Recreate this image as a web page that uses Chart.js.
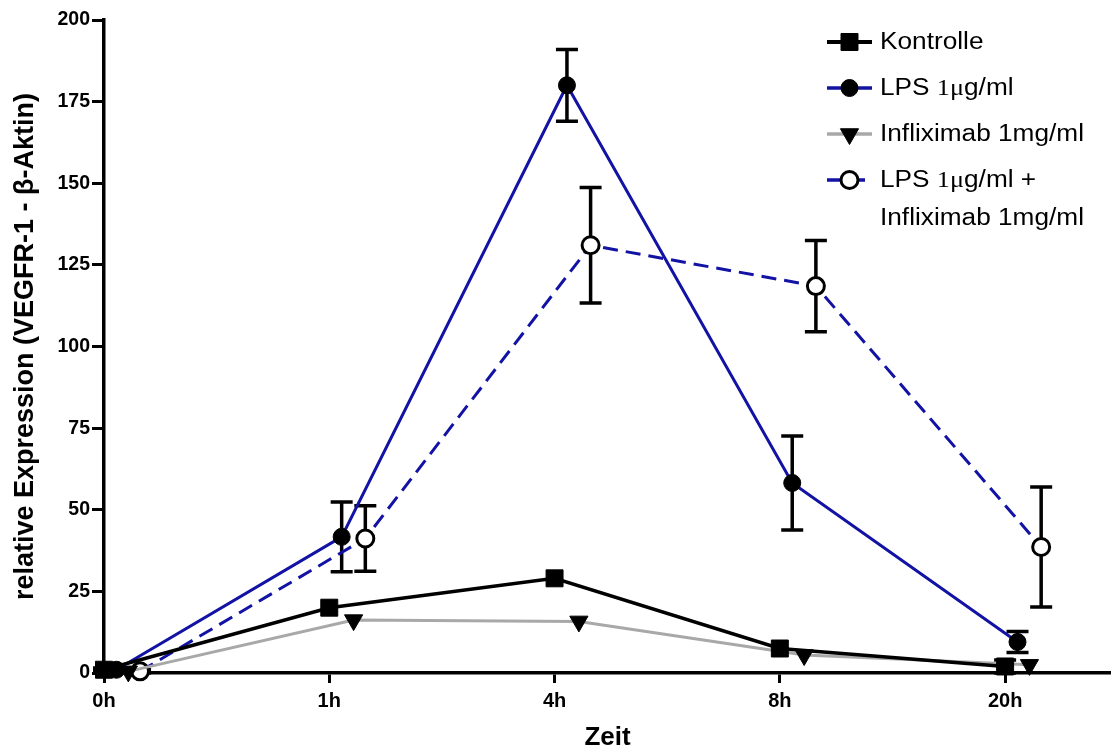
<!DOCTYPE html>
<html lang="de">
<head>
<meta charset="UTF-8">
<title>VEGFR-1 Expression</title>
<script src="https://cdn.jsdelivr.net/npm/chart.js"></script>
<style>
  html, body { margin: 0; padding: 0; background: #fff; overflow: hidden; }
  #wrap { width: 1111px; height: 751px; }
  canvas { display: block; }
</style>
</head>
<body>
<div id="wrap"><canvas id="chart" width="1111" height="751"></canvas></div>
<script>
// time points (categories)
const timeLabels = ['0h', '1h', '4h', '8h', '20h'];

// series: mean values and error (SEM)
const kontrolle    = [1, 20, 29, 7.5, 2];
const kontrolleErr = [0.5, 0, 0, 0, 2];
const lps          = [1, 41.7, 180, 58.2, 9.5];
const lpsErr       = [0.5, 10.7, 11, 14.4, 3.2];
const inflix       = [0.5, 16.2, 15.8, 5.5, 2.5];
const inflixErr    = [0, 0, 0, 0, 0];
const lpsInflix    = [0.5, 41.2, 131, 118.5, 38.6];
const lpsInflixErr = [0.5, 10, 17.7, 14, 18.4];

// legend text, one entry per series (lines)
const legendLines = [
    ['Kontrolle'],
    ['LPS 1μg/ml'],
    ['Infliximab 1mg/ml'],
    ['LPS 1μg/ml +', 'Infliximab 1mg/ml']
];

const yTicks = { min: 0, max: 200, step: 25 };

const BLUE = '#1212a4';
const GREY = '#a8a8a8';

// small horizontal shift per series so markers don't sit on top of each other
const dodge = [0, 0.055, 0.108, 0.16];

function toPoints(values, k) {
    return values.map((v, i) => ({ x: i + dodge[k], y: v }));
}

// error bars, drawn under the lines and markers
const errorBars = {
    id: 'errorBars',
    beforeDatasetsDraw(chart) {
        const ctx = chart.ctx;
        const y = chart.scales.y;
        ctx.save();
        ctx.strokeStyle = '#000';
        ctx.lineWidth = 3.5;
        chart.data.datasets.forEach((ds, di) => {
            const meta = chart.getDatasetMeta(di);
            meta.data.forEach((pt, i) => {
                const v = ds.data[i].y, e = ds.errors[i];
                if (!e) return;
                const top = y.getPixelForValue(v + e);
                const bot = y.getPixelForValue(v - e);
                ctx.beginPath();
                ctx.moveTo(pt.x, top); ctx.lineTo(pt.x, bot);
                ctx.moveTo(pt.x - 11, top); ctx.lineTo(pt.x + 11, top);
                ctx.moveTo(pt.x - 11, bot); ctx.lineTo(pt.x + 11, bot);
                ctx.stroke();
            });
        });
        ctx.restore();
    }
};

function drawMarker(ctx, ds, x, y) {
    const r = ds.pointRadius;
    ctx.save();
    ctx.fillStyle = ds.pointBackgroundColor;
    ctx.strokeStyle = ds.pointBorderColor;
    ctx.lineWidth = ds.pointBorderWidth;
    ctx.setLineDash([]);
    ctx.beginPath();
    if (ds.pointStyle === 'rect') {
        const s = r * Math.SQRT1_2;
        ctx.rect(x - s, y - s, 2 * s, 2 * s);
    } else if (ds.pointStyle === 'triangle') {
        for (let k = 0; k < 3; k++) {
            const a = Math.PI / 2 + k * 2 * Math.PI / 3;
            const px = x + Math.cos(a) * r, py = y + Math.sin(a) * r;
            if (k === 0) ctx.moveTo(px, py); else ctx.lineTo(px, py);
        }
        ctx.closePath();
    } else {
        ctx.arc(x, y, r, 0, Math.PI * 2);
    }
    ctx.fill();
    ctx.stroke();
    ctx.restore();
}

// draw a label where "1μ" is set in a serif face like the original
function drawMixedText(ctx, text, x, y) {
    const parts = text.split(/(1μ)/);
    let cx = x;
    parts.forEach(p => {
        if (!p) return;
        ctx.font = p === '1μ' ? '23px "Liberation Serif"' : '23px "Liberation Sans"';
        ctx.fillText(p, cx, y);
        cx += ctx.measureText(p).width;
    });
}

const customLegend = {
    id: 'customLegend',
    afterDraw(chart) {
        const ctx = chart.ctx;
        const x0 = 827, x1 = 872, tx = 880;
        let rowY = 42;
        ctx.save();
        chart.data.datasets.forEach((ds, i) => {
            ctx.strokeStyle = ds.borderColor;
            ctx.lineWidth = ds.borderWidth + 0.5;
            ctx.setLineDash(ds.borderDash || []);
            ctx.beginPath();
            ctx.moveTo(x0, rowY); ctx.lineTo(x1, rowY);
            ctx.stroke();
            drawMarker(ctx, ds, (x0 + x1) / 2, rowY);

            ctx.fillStyle = '#000';
            ctx.textBaseline = 'middle';
            ctx.textAlign = 'left';
            legendLines[i].forEach((line, li) => {
                ctx.save();
                ctx.translate(tx, rowY + 1 + li * 38);
                ctx.scale(1.14, 1);
                drawMixedText(ctx, line, 0, 0);
                ctx.restore();
            });
            rowY += 46;
        });
        ctx.restore();
    }
};

const ctx = document.getElementById('chart').getContext('2d');
new Chart(ctx, {
    type: 'line',
    data: {
        datasets: [
            {
                label: legendLines[0].join(' '),
                data: toPoints(kontrolle, 0),
                errors: kontrolleErr,
                borderColor: '#000',
                borderWidth: 3.5,
                pointStyle: 'rect',
                pointRadius: 12,
                pointBackgroundColor: '#000',
                pointBorderColor: '#000',
                pointBorderWidth: 1
            },
            {
                label: legendLines[1].join(' '),
                data: toPoints(lps, 1),
                errors: lpsErr,
                borderColor: BLUE,
                borderWidth: 3,
                pointStyle: 'circle',
                pointRadius: 8.5,
                pointBackgroundColor: '#000',
                pointBorderColor: '#000',
                pointBorderWidth: 1
            },
            {
                label: legendLines[2].join(' '),
                data: toPoints(inflix, 2),
                errors: inflixErr,
                borderColor: GREY,
                borderWidth: 3,
                pointStyle: 'triangle',
                pointRotation: 180,
                pointRadius: 10.5,
                pointBackgroundColor: '#000',
                pointBorderColor: '#000',
                pointBorderWidth: 1
            },
            {
                label: legendLines[3].join(' '),
                data: toPoints(lpsInflix, 3),
                errors: lpsInflixErr,
                borderColor: BLUE,
                borderWidth: 3,
                borderDash: [15, 8],
                pointStyle: 'circle',
                pointRadius: 8.5,
                pointBackgroundColor: '#fff',
                pointBorderColor: '#000',
                pointBorderWidth: 3
            }
        ]
    },
    options: {
        responsive: false,
        animation: false,
        devicePixelRatio: 1,
        clip: false,
        // no extra room for marker overflow, the axis runs to the right edge
        layout: { autoPadding: false, padding: { top: 20, right: 0, left: 0, bottom: 0 } },
        plugins: {
            legend: { display: false },
            tooltip: { enabled: false }
        },
        elements: { line: { tension: 0 } },
        scales: {
            x: {
                type: 'linear',
                min: 0,
                max: 4.47,
                afterFit: s => { s.height = 78; s.paddingRight = 0; s.paddingLeft = 0; },
                afterBuildTicks: s => { s.ticks = timeLabels.map((_, i) => ({ value: i })); },
                ticks: {
                    callback: v => timeLabels[v],
                    color: '#000',
                    padding: 6,
                    font: { family: 'Liberation Sans', size: 20, weight: 'bold' }
                },
                grid: { drawOnChartArea: false, drawTicks: true, tickLength: 10, tickWidth: 3, tickColor: '#000' },
                border: { display: true, color: '#000', width: 3.5 },
                title: {
                    display: true,
                    text: 'Zeit',
                    color: '#000',
                    padding: { top: 0, bottom: -2 },
                    font: { family: 'Liberation Sans', size: 26, weight: 'bold' }
                }
            },
            y: {
                min: yTicks.min,
                max: yTicks.max,
                afterFit: s => { s.width = 104; },
                ticks: {
                    stepSize: yTicks.step,
                    color: '#000',
                    padding: 2,
                    font: { family: 'Liberation Sans', size: 19.5, weight: 'bold' }
                },
                grid: { drawOnChartArea: false, drawTicks: true, tickLength: 12, tickWidth: 3, tickColor: '#000' },
                border: { display: true, color: '#000', width: 3.5 },
                title: {
                    display: true,
                    text: 'relative Expression (VEGFR-1 - β-Aktin)',
                    color: '#000',
                    padding: { top: 9, bottom: 0 },
                    font: { family: 'Liberation Sans', size: 27, weight: 'bold' }
                }
            }
        }
    },
    plugins: [errorBars, customLegend]
});
</script>
</body>
</html>
